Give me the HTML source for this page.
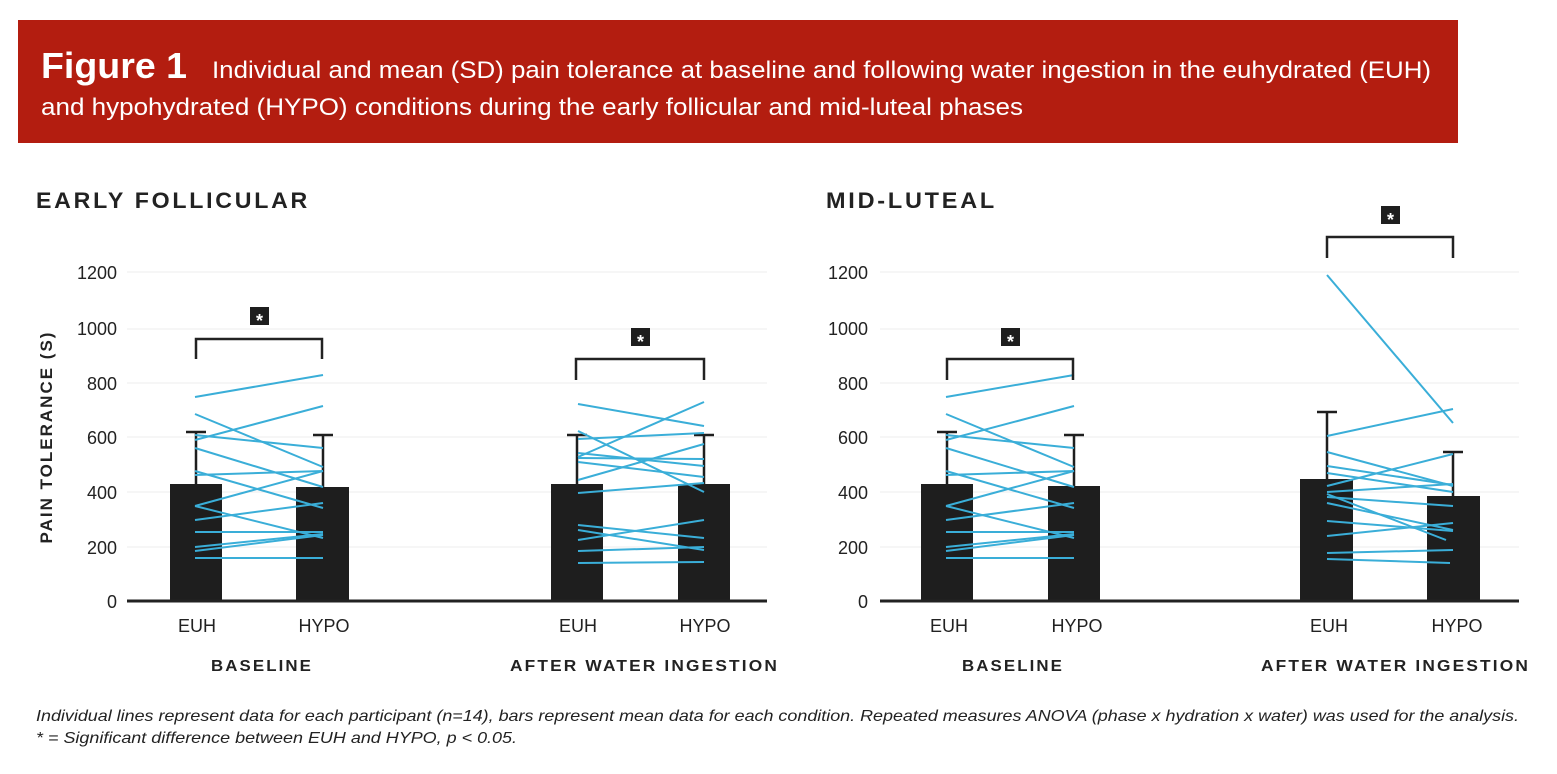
<!DOCTYPE html>
<html><head><meta charset="utf-8"><style>
html,body{margin:0;padding:0;background:#fff;}
svg{display:block;font-family:"Liberation Sans",Arial,sans-serif;}
</style></head><body>
<svg width="1557" height="774" viewBox="0 0 1557 774" xmlns="http://www.w3.org/2000/svg">
<rect x="18" y="20" width="1440" height="123" fill="#b31d10"/>
<text x="41" y="78" fill="#fff" font-size="36" font-weight="bold" textLength="146" lengthAdjust="spacingAndGlyphs">Figure 1</text>
<text x="212" y="78" fill="#fff" font-size="24" textLength="1219" lengthAdjust="spacingAndGlyphs">Individual and mean (SD) pain tolerance at baseline and following water ingestion in the euhydrated (EUH)</text>
<text x="41" y="115" fill="#fff" font-size="24" textLength="982" lengthAdjust="spacingAndGlyphs">and hypohydrated (HYPO) conditions during the early follicular and mid-luteal phases</text>

<text x="36" y="208" font-size="22" font-weight="bold" letter-spacing="2.6" fill="#222" textLength="274" lengthAdjust="spacingAndGlyphs">EARLY FOLLICULAR</text>
<text x="826" y="208" font-size="22" font-weight="bold" letter-spacing="2.6" fill="#222" textLength="171" lengthAdjust="spacingAndGlyphs">MID-LUTEAL</text>

<text transform="translate(52,437) rotate(-90)" text-anchor="middle" font-size="17" font-weight="bold" letter-spacing="2" fill="#222">PAIN TOLERANCE (S)</text>

<g font-size="18" fill="#222" text-anchor="end">
<text x="117" y="279">1200</text><text x="117" y="335">1000</text><text x="117" y="390">800</text><text x="117" y="444">600</text><text x="117" y="499">400</text><text x="117" y="554">200</text><text x="117" y="608">0</text>
<text x="868" y="279">1200</text><text x="868" y="335">1000</text><text x="868" y="390">800</text><text x="868" y="444">600</text><text x="868" y="499">400</text><text x="868" y="554">200</text><text x="868" y="608">0</text>
</g>

<g stroke="#eeeeee" stroke-width="1">
<line x1="127" x2="767" y1="272" y2="272"/><line x1="127" x2="767" y1="329" y2="329"/><line x1="127" x2="767" y1="383" y2="383"/><line x1="127" x2="767" y1="437" y2="437"/><line x1="127" x2="767" y1="492" y2="492"/><line x1="127" x2="767" y1="547" y2="547"/>
<line x1="880" x2="1519" y1="272" y2="272"/><line x1="880" x2="1519" y1="329" y2="329"/><line x1="880" x2="1519" y1="383" y2="383"/><line x1="880" x2="1519" y1="437" y2="437"/><line x1="880" x2="1519" y1="492" y2="492"/><line x1="880" x2="1519" y1="547" y2="547"/>
</g>

<g fill="#1e1e1e">
<rect x="170" y="484" width="52" height="117"/><rect x="296" y="487" width="53" height="114"/>
<rect x="551" y="484" width="52" height="117"/><rect x="678" y="484" width="52" height="117"/>
<rect x="921" y="484" width="52" height="117"/><rect x="1048" y="486" width="52" height="115"/>
<rect x="1300" y="479" width="53" height="122"/><rect x="1427" y="496" width="53" height="105"/>
</g>
<g stroke="#1e1e1e" stroke-width="2.5" fill="none">
<path d="M196 484V432M186 432H206"/><path d="M323 487V435M313 435H333"/>
<path d="M577 484V435M567 435H587"/><path d="M704 484V435M694 435H714"/>
<path d="M947 484V432M937 432H957"/><path d="M1074 486V435M1064 435H1084"/>
<path d="M1327 479V412M1317 412H1337"/><path d="M1453 496V452M1443 452H1463"/>
</g>

<g stroke="#3aaed8" stroke-width="2" fill="none">
<line x1="195" y1="397" x2="323" y2="375"/><line x1="195" y1="414" x2="323" y2="467"/><line x1="195" y1="440" x2="323" y2="406"/><line x1="195" y1="435" x2="323" y2="448"/><line x1="195" y1="448" x2="323" y2="487"/><line x1="195" y1="471" x2="323" y2="508"/><line x1="195" y1="475" x2="323" y2="471"/><line x1="195" y1="506" x2="323" y2="471"/><line x1="195" y1="506" x2="323" y2="538"/><line x1="195" y1="520" x2="323" y2="503"/><line x1="195" y1="532" x2="323" y2="532"/><line x1="195" y1="547" x2="323" y2="534"/><line x1="195" y1="551" x2="323" y2="535"/><line x1="195" y1="558" x2="323" y2="558"/>
<line x1="578" y1="404" x2="704" y2="426"/><line x1="578" y1="431" x2="704" y2="492"/><line x1="578" y1="439" x2="704" y2="433"/><line x1="578" y1="457" x2="704" y2="402"/><line x1="578" y1="453" x2="704" y2="466"/><line x1="578" y1="458" x2="704" y2="459"/><line x1="578" y1="462" x2="704" y2="477"/><line x1="578" y1="480" x2="704" y2="444"/><line x1="578" y1="493" x2="704" y2="483"/><line x1="578" y1="525" x2="704" y2="538"/><line x1="578" y1="530" x2="704" y2="550"/><line x1="578" y1="540" x2="704" y2="520"/><line x1="578" y1="551" x2="704" y2="547"/><line x1="578" y1="563" x2="704" y2="562"/>
<g transform="translate(751,0)">
<line x1="195" y1="397" x2="323" y2="375"/><line x1="195" y1="414" x2="323" y2="467"/><line x1="195" y1="440" x2="323" y2="406"/><line x1="195" y1="435" x2="323" y2="448"/><line x1="195" y1="448" x2="323" y2="487"/><line x1="195" y1="471" x2="323" y2="508"/><line x1="195" y1="475" x2="323" y2="471"/><line x1="195" y1="506" x2="323" y2="471"/><line x1="195" y1="506" x2="323" y2="538"/><line x1="195" y1="520" x2="323" y2="503"/><line x1="195" y1="532" x2="323" y2="532"/><line x1="195" y1="547" x2="323" y2="534"/><line x1="195" y1="551" x2="323" y2="535"/><line x1="195" y1="558" x2="323" y2="558"/>
</g>
<line x1="1327" y1="275" x2="1453" y2="423"/><line x1="1327" y1="436" x2="1453" y2="409"/><line x1="1327" y1="452" x2="1453" y2="486"/><line x1="1327" y1="466" x2="1453" y2="485"/><line x1="1327" y1="473" x2="1453" y2="492"/><line x1="1327" y1="486" x2="1453" y2="454"/><line x1="1327" y1="492" x2="1453" y2="484"/><line x1="1327" y1="494" x2="1446" y2="540"/><line x1="1327" y1="497" x2="1453" y2="506"/><line x1="1327" y1="503" x2="1453" y2="530"/><line x1="1327" y1="521" x2="1453" y2="531"/><line x1="1327" y1="536" x2="1453" y2="523"/><line x1="1327" y1="553" x2="1453" y2="550"/><line x1="1327" y1="559" x2="1450" y2="563"/>
</g>

<g stroke="#222" stroke-width="3">
<line x1="127" x2="767" y1="601" y2="601"/><line x1="880" x2="1519" y1="601" y2="601"/>
</g>

<g stroke="#222" stroke-width="2.5" fill="none">
<path d="M196 359V339H322V359"/><path d="M576 380V359H704V380"/>
<path d="M947 380V359H1073V380"/><path d="M1327 258V237H1453V258"/>
</g>
<g fill="#1e1e1e">
<rect x="250" y="307" width="19" height="18"/><rect x="631" y="328" width="19" height="18"/>
<rect x="1001" y="328" width="19" height="18"/><rect x="1381" y="206" width="19" height="18"/>
</g>
<g fill="#fff" font-size="18" font-weight="bold" text-anchor="middle">
<text x="259.5" y="327">*</text><text x="640.5" y="348">*</text><text x="1010.5" y="348">*</text><text x="1390.5" y="226">*</text>
</g>

<g font-size="18" fill="#222" text-anchor="middle">
<text x="197" y="632">EUH</text><text x="324" y="632">HYPO</text><text x="578" y="632">EUH</text><text x="705" y="632">HYPO</text>
<text x="949" y="632">EUH</text><text x="1077" y="632">HYPO</text><text x="1329" y="632">EUH</text><text x="1457" y="632">HYPO</text>
</g>
<g font-size="16" font-weight="bold" fill="#222" letter-spacing="2">
<text x="211" y="671" textLength="102" lengthAdjust="spacingAndGlyphs">BASELINE</text><text x="510" y="671" textLength="269" lengthAdjust="spacingAndGlyphs">AFTER WATER INGESTION</text>
<text x="962" y="671" textLength="102" lengthAdjust="spacingAndGlyphs">BASELINE</text><text x="1261" y="671" textLength="269" lengthAdjust="spacingAndGlyphs">AFTER WATER INGESTION</text>
</g>
<g font-size="16" font-style="italic" fill="#222">
<text x="36" y="721" textLength="1483" lengthAdjust="spacingAndGlyphs">Individual lines represent data for each participant (n=14), bars represent mean data for each condition. Repeated measures ANOVA (phase x hydration x water) was used for the analysis.</text>
<text x="36" y="743" textLength="481" lengthAdjust="spacingAndGlyphs">* = Significant difference between EUH and HYPO, p &lt; 0.05.</text>
</g>
</svg>
</body></html>
